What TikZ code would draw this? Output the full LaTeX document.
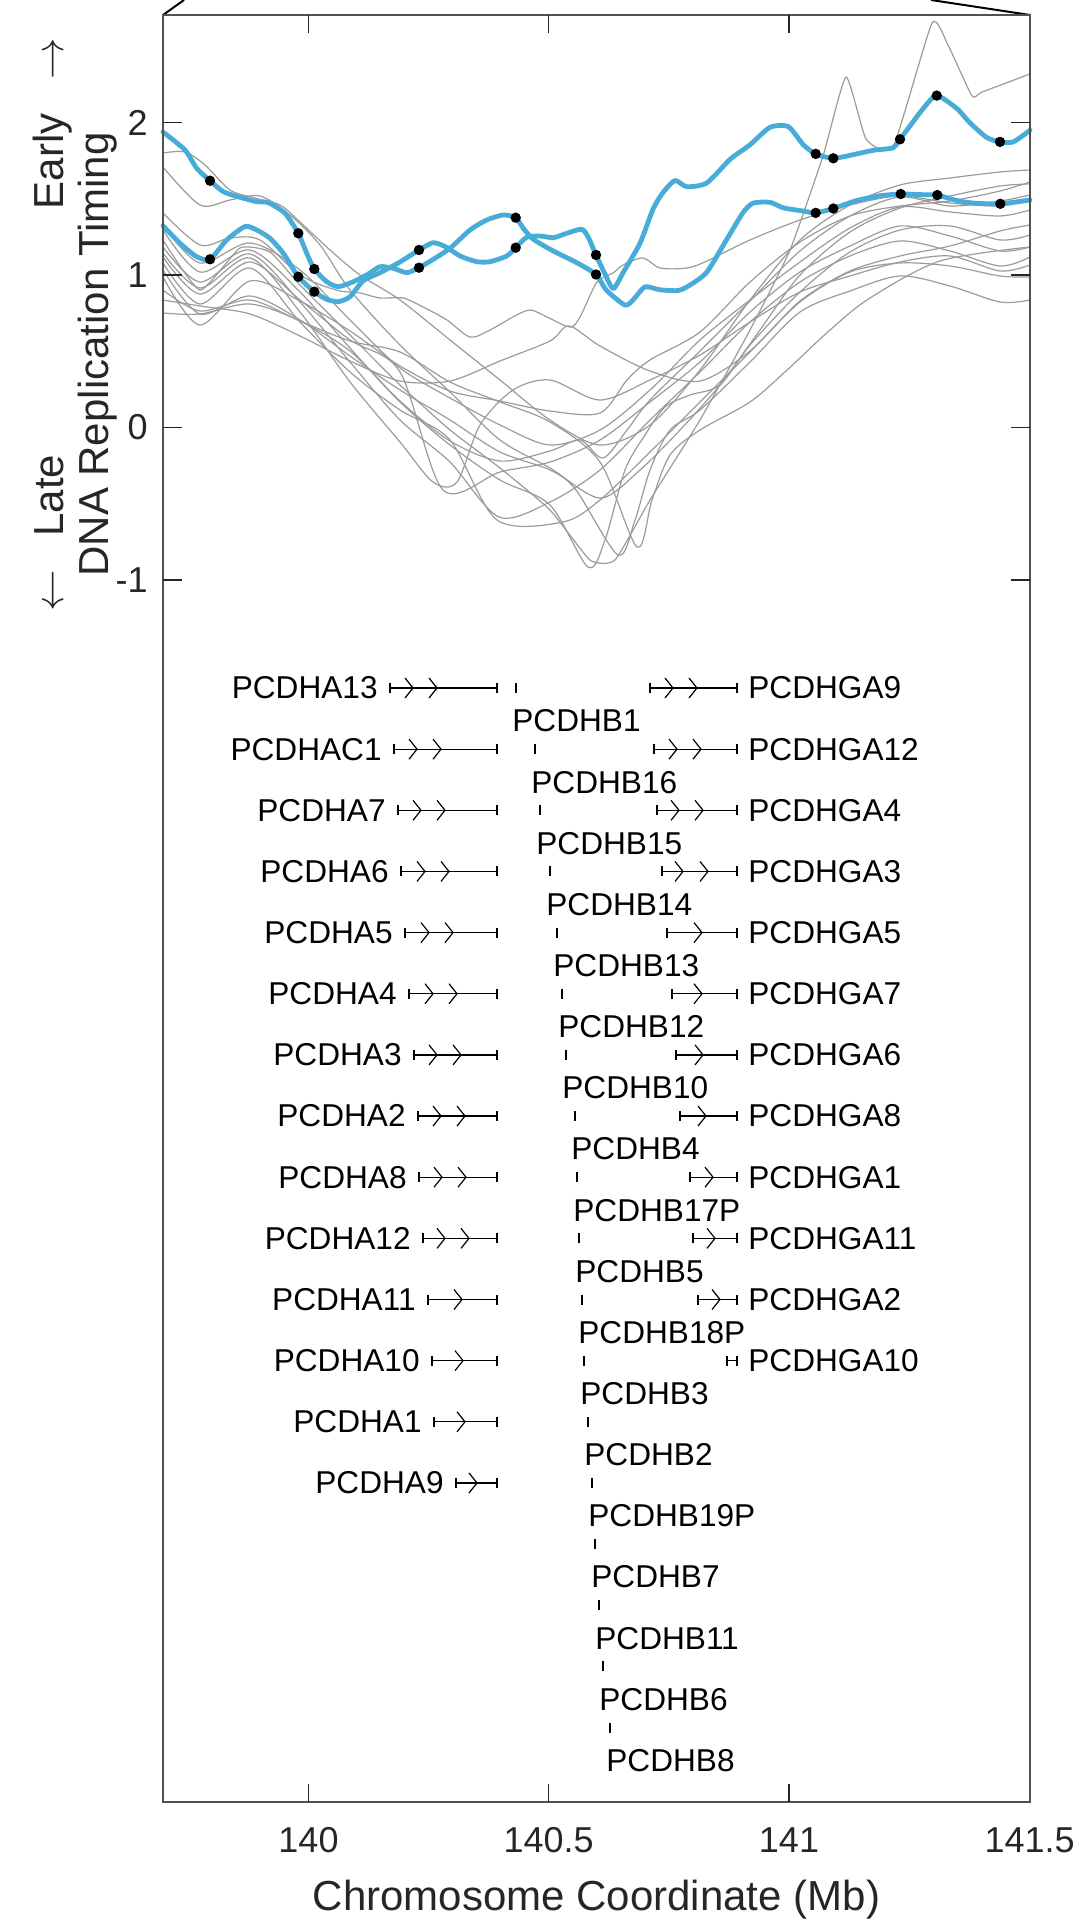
\documentclass[tikz,border=0pt]{standalone}
\usepackage{fontspec}
\setmainfont{Liberation Sans}
\usepackage{tikz}
\definecolor{repblue}{RGB}{72,172,216}
\definecolor{cellgrey}{RGB}{155,155,155}
\definecolor{axisgrey}{RGB}{38,38,38}
\tikzset{rep line/.style={repblue, line width=2.4pt, line join=round, line cap=round}}
\tikzset{cell line/.style={cellgrey, line width=0.6pt, line join=round}}
\tikzset{gene bar/.style={black, line width=0.6pt}}
\tikzset{gene label/.style={inner sep=0pt, font=\fontsize{15.8}{18}\selectfont}}
\tikzset{tick label/.style={inner sep=0pt, text=axisgrey, font=\fontsize{18}{20}\selectfont}}
\tikzset{axis title/.style={inner sep=0pt, text=axisgrey, font=\fontsize{21}{24}\selectfont}}
\begin{document}
\begin{tikzpicture}[x=0.5pt, y=-0.5pt]
  \useasboundingbox (0,0) rectangle (1089,1920);
  \coordinate (NW) at (163,15);
  \coordinate (NE) at (1030,15);
  \coordinate (SW) at (163,1802);
  \coordinate (SE) at (1030,1802);
  \coordinate (zoomL) at (184,0);
  \coordinate (zoomR) at (931,0);
  \draw[black, line width=1pt] (NW) -- (zoomL);
  \draw[black, line width=1pt] (NE) -- (zoomR);

  \draw[cell line] plot[smooth, tension=0.5] coordinates {(163,153) (185,152) (205,165) (230,190) (255,198) (280,205) (300,222) (330,250) (360,275) (400,300) (450,340) (500,380) (550,420) (600,445) (650,425) (700,370) (750,300) (800,240) (850,205) (900,185) (950,178) (1000,172) (1030,170)};
  \draw[cell line] plot[smooth, tension=0.5] coordinates {(163,167) (200,205) (230,200) (260,196) (290,215) (320,245) (350,290) (400,345) (450,392) (500,440) (550,468) (600,498) (640,470) (680,430) (720,385) (760,330) (800,275) (850,232) (900,208) (950,196) (1000,186) (1030,184)};
  \draw[cell line] plot[smooth, tension=0.5] coordinates {(163,213) (200,245) (230,238) (260,240) (300,275) (336,290) (360,293) (380,298) (403,298) (423,307) (447,320) (470,337) (490,330) (513,317) (530,310) (547,317) (570,327) (580,317) (597,282) (613,273) (623,265) (643,258) (660,268) (687,268) (707,261) (750,240) (800,220) (850,205) (900,196) (950,203) (1000,206) (1030,200)};
  \draw[cell line] plot[smooth, tension=0.3] coordinates {(163,240) (200,290) (240,248) (270,252) (300,285) (350,335) (400,385) (450,430) (500,468) (550,510) (590,560) (615,560) (650,500) (700,420) (750,330) (790,250) (823,156) (846,77) (866,139) (893,147) (932,23) (948,45) (972,96) (982,92) (1030,74)};
  \draw[cell line] plot[smooth, tension=0.5] coordinates {(163,225) (200,263) (250,243) (300,270) (350,320) (400,368) (450,398) (500,425) (550,445) (600,430) (650,390) (700,340) (750,300) (800,262) (850,228) (900,207) (950,212) (1000,216) (1030,210)};
  \draw[cell line] plot[smooth, tension=0.5] coordinates {(163,230) (200,272) (250,250) (300,292) (350,348) (400,402) (450,445) (500,480) (550,505) (588,567) (605,540) (625,470) (645,435) (665,407) (690,395) (720,385) (750,345) (800,292) (850,252) (900,230) (950,226) (1000,240) (1030,235)};
  \draw[cell line] plot[smooth, tension=0.5] coordinates {(163,247) (200,282) (250,254) (300,302) (350,362) (400,420) (450,462) (499,517) (550,502) (600,470) (650,420) (700,372) (750,322) (800,282) (850,256) (900,241) (950,251) (1000,266) (1030,257)};
  \draw[cell line] plot[smooth, tension=0.5] coordinates {(163,253) (200,288) (250,258) (300,312) (350,382) (400,442) (433,482) (457,482) (480,425) (513,390) (550,380) (600,400) (650,380) (700,355) (750,322) (800,292) (850,276) (900,262) (950,256) (1000,271) (1030,265)};
  \draw[cell line] plot[smooth, tension=0.5] coordinates {(163,257) (200,294) (250,262) (300,300) (350,340) (400,372) (443,490) (500,472) (550,462) (600,440) (650,402) (700,362) (750,312) (800,272) (850,246) (900,226) (950,236) (1000,251) (1030,247)};
  \draw[cell line] plot[smooth, tension=0.5] coordinates {(163,263) (200,304) (250,268) (300,322) (350,372) (400,410) (450,440) (497,520) (563,522) (600,500) (650,452) (700,402) (750,352) (800,302) (850,272) (900,263) (950,266) (1000,276) (1030,277)};
  \draw[cell line] plot[smooth, tension=0.5] coordinates {(163,270) (200,314) (250,296) (300,320) (350,356) (400,390) (450,420) (500,452) (550,470) (576,490) (618,555) (635,520) (650,470) (670,430) (700,410) (750,362) (800,312) (850,291) (900,276) (950,286) (1000,302) (1030,300)};
  \draw[cell line] plot[smooth, tension=0.5] coordinates {(163,277) (200,325) (250,281) (300,301) (350,331) (400,366) (450,391) (500,401) (550,411) (600,413) (627,380) (650,360) (700,332) (750,282) (800,242) (850,216) (900,206) (950,201) (1000,191) (1030,182)};
  \draw[cell line] plot[smooth, tension=0.5] coordinates {(163,290) (200,311) (250,300) (300,321) (350,341) (400,352) (450,382) (500,402) (550,422) (600,462) (637,547) (652,500) (670,455) (700,430) (750,402) (786,371) (830,330) (870,298) (940,261) (1030,247)};
  \draw[cell line] plot[smooth, tension=0.5] coordinates {(163,300) (200,306) (250,314) (300,336) (350,361) (400,381) (450,381) (500,361) (550,341) (569,326) (600,346) (650,371) (700,381) (750,351) (800,301) (850,271) (900,256) (950,246) (1000,231) (1030,225)};
  \draw[cell line] plot[smooth, tension=0.5] coordinates {(163,313) (200,314) (250,304) (300,321) (350,351) (400,401) (450,441) (500,461) (550,451) (580,440) (603,458) (627,430) (650,400) (700,351) (750,301) (800,251) (850,216) (900,197) (950,206) (1000,201) (1030,195)};

  \draw[rep line] plot[smooth, tension=0.4] coordinates {(163,132) (185,150) (196.7,168.3) (210,180.7) (223.3,191.7) (240,197.3) (256.7,201.7) (268.3,202.7) (285,213.3) (298.3,233.3) (306.7,253.3) (314.3,269) (326.7,281.7) (338.3,286.7) (353.3,281.7) (368.3,274) (380,266.7) (393.3,268.3) (406.7,272.7) (419,267.7) (433.3,259.3) (450,248.3) (470,230) (486.7,220) (503.3,215) (515.7,217.7) (523.3,228.3) (533.3,239.3) (553.3,251) (576.7,262.7) (596,274.5) (606.7,290.5) (625,305.1) (633.3,299.6) (645,286.9) (660,289.8) (678.3,290.5) (690,285) (706.7,272.3) (726.7,239.5) (743.3,212.2) (753.3,203.1) (770,202.3) (783.3,207.8) (803.3,211.1) (815.7,212.9) (833.3,208.5) (856.7,200.5) (880,195.8) (900.7,194) (923.3,194.7) (937.3,195.1) (956.7,200.5) (973.3,203.1) (1000.3,203.8) (1030,200)};
  \draw[rep line] plot[smooth, tension=0.4] coordinates {(163,225.7) (180,243.3) (196.7,256.7) (210,259.3) (226.7,240) (245,226.5) (256.7,230) (270,238.3) (283.3,253.3) (298.3,276.7) (314.3,291.7) (326.7,299.3) (338.3,301.7) (350,296.7) (363.3,280.7) (380,272.7) (400,262) (419,250) (433.3,242.7) (446.7,247.3) (460,256) (476.7,261.7) (490,261.7) (506.7,256) (515.7,247.7) (526.7,237.3) (540,236) (553.3,237.7) (566.7,233.3) (581.7,229.3) (588.3,237.3) (596,255) (605,274.1) (613.3,288.7) (623.3,272.3) (640,243.2) (653.3,208.5) (663.3,192.1) (675,180.5) (686.7,186.7) (706.7,183) (730,159.4) (750,144.8) (770,127.3) (788.3,126.6) (803.3,144.8) (815.7,153.9) (833.3,158.3) (856.7,153.9) (873.3,150.3) (893.3,147.7) (900,139.3) (923.3,108.4) (936.7,95.6) (956.7,108.4) (970,122.9) (986.7,137.5) (1000,141.9) (1013.3,141.9) (1030,130.2)};
  \foreach \p in {(210,180.7), (210,259.3), (298.3,233.3), (298.3,276.7), (314.3,269), (314.3,291.7), (419,250), (419,267.7), (515.7,217.7), (515.7,247.7), (596,255), (596,274.5), (815.7,153.9), (833.3,158.3), (815.7,212.9), (833.3,208.5), (900,139.3), (900.7,194), (936.7,95.6), (937.3,195.1), (1000,141.9), (1000.3,203.8)}
    \fill[black] \p circle[radius=2.6pt];

  \draw[axisgrey!80!white, line width=0.8pt] (NW) -- (NE) -- (SE) -- (SW) -- cycle;
  \foreach \tx in {308.5,548.7,789} {
    \draw[axisgrey, line width=0.6pt] (\tx,1802) -- (\tx,1784);
    \draw[axisgrey, line width=0.6pt] (\tx,15) -- (\tx,33);
  }
  \foreach \ty in {122.7,275,427.5,580} {
    \draw[axisgrey, line width=0.6pt] (163,\ty) -- (182,\ty);
    \draw[axisgrey, line width=0.6pt] (1030,\ty) -- (1011,\ty);
  }
  \foreach \tx/\tl [count=\i] in {308.5/140, 548.7/140.5, 789/141, 1029.6/141.5}
    \node[tick label, anchor=north] (xtick\i) at (\tx,1827) {\tl};
  \foreach \ty/\tl [count=\i] in {122.7/2, 275/1, 427.5/0, 580/-1}
    \node[tick label, anchor=east] (ytick\i) at (148,\ty) {\tl};
  \node[axis title, anchor=base] (xtitle) at (596.5,1910) {Chromosome Coordinate (Mb)};
  \node[axis title, rotate=90, anchor=base] (ytitle) at (108,354.5) {DNA Replication Timing};
  \node[axis title, rotate=90, anchor=base west] (late) at (63,612) {$\leftarrow$\hspace{0.8em}Late};
  \node[axis title, rotate=90, anchor=base east] (early) at (63,38) {Early\hspace{0.8em}$\rightarrow$};

  \foreach \r/\s/\lab in {1/390/PCDHA13, 2/394/PCDHAC1, 3/398/PCDHA7, 4/401/PCDHA6, 5/405/PCDHA5, 6/409/PCDHA4, 7/414/PCDHA3, 8/418/PCDHA2, 9/419/PCDHA8, 10/423/PCDHA12, 11/428/PCDHA11, 12/432/PCDHA10, 13/434/PCDHA1, 14/456/PCDHA9} {
    \pgfmathsetmacro\y{688+(\r-1)*61.15}
    \draw[gene bar] (\s,\y) -- (497,\y);
    \draw[gene bar] (\s,\y-5) -- (\s,\y+5) (497,\y-5) -- (497,\y+5);
    \node[gene label, anchor=east] (alpha\r) at (\s-12,\y) {\lab};
  }
  \foreach \r/\s/\lab in {1/650/PCDHGA9, 2/654/PCDHGA12, 3/657/PCDHGA4, 4/662/PCDHGA3, 5/667/PCDHGA5, 6/672/PCDHGA7, 7/676/PCDHGA6, 8/680/PCDHGA8, 9/690/PCDHGA1, 10/693/PCDHGA11, 11/698/PCDHGA2, 12/727/PCDHGA10} {
    \pgfmathsetmacro\y{688+(\r-1)*61.15}
    \draw[gene bar] (\s,\y) -- (737,\y);
    \draw[gene bar] (\s,\y-5) -- (\s,\y+5) (737,\y-5) -- (737,\y+5);
    \node[gene label, anchor=west] (gamma\r) at (748,\y) {\lab};
  }
  \foreach \r/\c in {1/413, 1/437, 2/417, 2/441, 3/421, 3/445, 4/425, 4/449, 5/429, 5/453, 6/433, 6/457, 7/437, 7/461, 8/441, 8/465, 9/442, 9/466, 10/445, 10/469, 11/462, 12/463, 13/465, 14/477,
                     1/673, 1/697, 2/677, 2/701, 3/679, 3/703, 4/683, 4/708, 5/702, 6/702, 7/703, 8/706, 9/713, 10/715, 11/720} {
    \pgfmathsetmacro\y{688+(\r-1)*61.15}
    \draw[gene bar] (\c-8,\y-10) -- (\c,\y) -- (\c-8,\y+10);
  }
  \foreach \r/\t/\lab in {1/516/PCDHB1, 2/535/PCDHB16, 3/540/PCDHB15, 4/550/PCDHB14, 5/557/PCDHB13, 6/562/PCDHB12, 7/566/PCDHB10, 8/575/PCDHB4, 9/577/PCDHB17P, 10/579/PCDHB5, 11/582/PCDHB18P, 12/584/PCDHB3, 13/588/PCDHB2, 14/592/PCDHB19P, 15/595/PCDHB7, 16/599/PCDHB11, 17/603/PCDHB6, 18/610/PCDHB8} {
    \pgfmathsetmacro\y{688+(\r-1)*61.15}
    \draw[gene bar] (\t,\y-5) -- (\t,\y+5);
    \node[gene label, anchor=west] (beta\r) at (\t-4,\y+33) {\lab};
  }
\end{tikzpicture}
\end{document}
